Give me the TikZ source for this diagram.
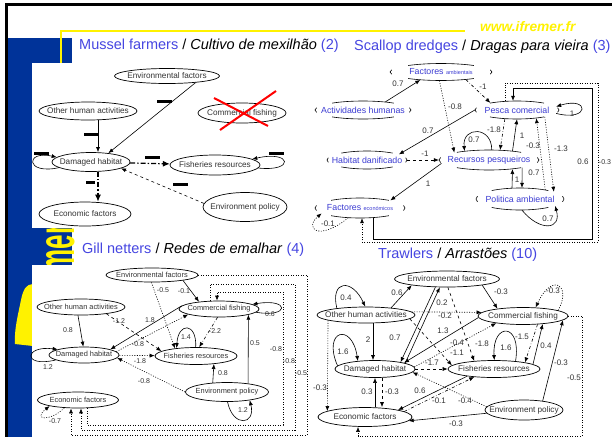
\documentclass[tikz,border=0pt]{standalone}
\usepackage{fontspec}
\setmainfont{Liberation Sans}
\usetikzlibrary{arrows.meta}
\usetikzlibrary{shapes,calc}
\usetikzlibrary{positioning}
\definecolor{barBlue}{RGB}{0,51,153}
\definecolor{titleBlue}{RGB}{70,70,225}
\definecolor{nodeBlue}{RGB}{60,60,210}
\colorlet{nodeGray}{black!80}
\tikzstyle{fnode} = [draw,ellipse,line width=0.7pt,inner xsep=-8pt,inner ysep=0pt,text=nodeGray]
\tikzstyle{snode} = [ellipse,inner xsep=-8pt,inner ysep=0pt,text=nodeBlue]
\tikzstyle{arr} = [->,>={Latex[length=5pt,width=4pt]},line width=0.6pt]
\tikzstyle{dotln} = [dash pattern=on 1pt off 1.5pt]
\tikzstyle{bigdd} = [line width=1.2pt,dash pattern=on 5pt off 2pt on 1.5pt off 2pt,>={Latex[length=7pt,width=6pt]}]
\tikzstyle{lbl} = [inner sep=0.5pt,text=nodeGray]
\tikzstyle{minusbar} = [fill=black,minimum width=15pt,minimum height=3pt,inner sep=0pt]
\tikzstyle{ptitle} = [anchor=west,inner sep=0pt,font=\fontsize{14.5}{16}\selectfont]
\newcommand\brokenell[3]{%
  \foreach \a/\b in {50/130,230/310,165/195,-15/15}
    \draw[line width=0.6pt] ([shift={(\a:#2pt and #3pt)}]#1.center) arc[start angle=\a,end angle=\b,x radius=#2pt,y radius=#3pt];%
}

\begin{document}
\begin{tikzpicture}[x=1pt,y=-1pt]
\useasboundingbox (0,0) rectangle (612,437);
%
% slide
\fill[white] (0,0) rectangle (612,437);
\fill[black] (5,3) rectangle (612,6);
\fill[black] (5,3) rectangle (8,437);
\fill[barBlue] (8,38) rectangle (72,437);
\draw[yellow,line width=2pt] (61,63) |- (465,31);
\node[rotate=90,xscale=0.5,anchor=base west,inner sep=0pt,text=yellow,font=\fontsize{52}{52}\bfseries\selectfont] (logo) at (74,313) {Ifremer};
\fill[yellow] (33,284) .. controls (26,284) and (23,290) .. (21,300) .. controls (18,315) and (14,330) .. (15,344) -- (33,346) -- cycle;
\fill[white] (32,63) rectangle (306,228);
\fill[white] (32,265) rectangle (306,437);
\node[anchor=west,inner sep=0pt,text=yellow,font=\fontsize{13.8}{15}\bfseries\itshape\selectfont] (url) at (480,27) {www.ifremer.fr};
%
\node[ptitle] (title1) at (79,46) {\textcolor{titleBlue}{Mussel farmers} / \textit{Cultivo de mexilhão} \textcolor{titleBlue}{(2)}};
\node[ptitle] (title2) at (354,47) {\textcolor{titleBlue}{Scallop dredges} / \textit{Dragas para vieira} \textcolor{titleBlue}{(3)}};
\node[ptitle] (title3) at (82,250) {\textcolor{titleBlue}{Gill netters} / \textit{Redes de emalhar} \textcolor{titleBlue}{(4)}};
\node[ptitle] (title4) at (378,255) {\textcolor{titleBlue}{Trawlers} / \textit{Arrastões} \textcolor{titleBlue}{(10)}};
%
% mussel farmers
\begin{scope}[fnode/.append style={font=\fontsize{8.2}{9}\selectfont}]
\node[fnode,minimum width=105pt,minimum height=15pt] (mef) at (167,76) {Environmental factors};
\node[fnode,minimum width=98pt,minimum height=18pt] (moh) at (88,111) {Other human activities};
\node[fnode,minimum width=88pt,minimum height=20pt] (mcf) at (242,113) {Commercial fishing};
\node[fnode,minimum width=78pt,minimum height=19pt] (mdh) at (91,162) {Damaged habitat};
\node[fnode,minimum width=90pt,minimum height=20pt] (mfr) at (215,165) {Fisheries resources};
\node[fnode,minimum width=84pt,minimum height=29pt] (mep) at (245,207) {Environment policy};
\node[fnode,minimum width=92pt,minimum height=24pt] (mec) at (85,214) {Economic factors};

\draw[red,line width=2pt] (214,98) -- (268,126) (276,91) -- (220,130);
\draw[arr] (mef.-13) -- (mdh.27) node[minusbar] at (164,101) {};
\draw[arr] ([xshift=10pt]moh.south) -- ([xshift=7pt]mdh.north) node[minusbar] at (91,134) {};
\draw[arr] (mdh.190) .. controls (25,175) and (25,150) .. (mdh.172) node[minusbar] at (41,153) {};
\draw[arr,bigdd] (mdh) -- (mfr) node[minusbar] at (152,157.5) {};
\draw[arr] (mfr.-4) .. controls (295,172) and (292,150) .. (mfr.9) node[minusbar] at (276,153) {};
\draw[arr,dashed] (mep.175) -- (mdh.-12) node[minusbar] at (180,184) {};
\draw[arr,bigdd] ([xshift=7pt]mdh.south) -- ([xshift=13pt]mec.north) node[minusbar,minimum width=9pt] at (90,182) {};
\end{scope}
%
% scallop dredges
\begin{scope}[snode/.append style={font=\fontsize{8.8}{10}\selectfont},lbl/.append style={font=\fontsize{8}{9}\selectfont}]
\node[snode,minimum width=102pt,minimum height=17pt] (sfa) at (441,72) {Factores {\fontsize{5.5}{6}\selectfont ambientais}};
\node[snode,minimum width=96pt,minimum height=18pt] (sah) at (363,110) {Actividades humanas};
\node[snode,minimum width=84pt,minimum height=18pt] (spc) at (517,110) {Pesca comercial};
\node[snode,minimum width=80pt,minimum height=18pt] (shd) at (367,160) {Habitat danificado};
\node[snode,minimum width=100pt,minimum height=20pt] (srp) at (489,160) {Recursos pesqueiros};
\node[snode,minimum width=90pt,minimum height=20pt] (sfe) at (360,208) {Factores {\fontsize{5.5}{6}\selectfont económicos}};
\node[snode,minimum width=88pt,minimum height=22pt] (spa) at (520,199) {Politica ambiental};
\brokenell{sfa}{51}{8.5}
\brokenell{sah}{48}{9}
\brokenell{spc}{42}{9}
\brokenell{shd}{40}{9}
\brokenell{srp}{50}{10}
\brokenell{sfe}{45}{10}
\brokenell{spa}{44}{11}

\draw[arr] (sah.20) -- (sfa.-159) node[lbl] at (398,84) {0.7};
\draw[arr,dashdotted] (sfa.-17) -- (spc.165) node[lbl] at (483,87) {-1};
\draw[arr,dotln] (sfa.-100) -- (srp.168) node[lbl] at (455,107) {-0.8};
\draw[arr] (spc.180) -- (shd.10) node[lbl] at (428,131) {0.7};
\draw[arr,dashdotted] (spc.-144) -- (srp.42) node[lbl] at (494,130) {-1.8};
\draw[arr] (srp.21) -- (spc.-90) node[lbl] at (522,136) {1};
\draw[arr] (srp.75) .. controls (492,126) and (462,126) .. (srp.160) node[lbl] at (474,140) {0.7};
\draw[arr] (spc.-5) .. controls (590,122) and (590,96) .. (spc.5) node[lbl] at (572,114) {1};
\draw[arr,dashed] (shd) -- (srp) node[lbl] at (425,154) {-1};
\draw[arr] (srp.-176) -- (sfe.14) node[lbl] at (428,184) {1};
\draw[arr,dotln] (spa.20) -- (spc.-23) node[lbl] at (533,146) {-0.3};
\draw[arr,dotln] (spc.-14) -- (spa.12) node[lbl] at (561,149) {-1.3};
\draw[arr] (srp.-13) -- (spa.80) node[lbl] at (534,173) {0.7};
\draw[arr] (spa.126) -- (srp.-21) node[lbl] at (517,180) {1};
\draw[arr] (spa.-80) .. controls (540,232) and (562,230) .. (spa.-11) node[lbl] at (548,219) {0.7};
\draw[arr,dotln] (sfe.-140) .. controls (318,242) and (304,228) .. (sfe.188) node[lbl] at (328,224) {-0.1};
\draw[arr] ([xshift=13pt]sfe.south) -- ++(0,21) -| (592,88) -| ([xshift=-4pt]spc.north) node[lbl] at (583,162) {0.6};
\draw[arr,dotln] ([xshift=-12pt]spc.north) |- (598,83) |- (362,242) -- ([xshift=2pt]sfe.south) node[lbl,font=\fontsize{7}{8}\selectfont] at (605,162) {-0.3};
\end{scope}
%
% gill netters
\begin{scope}[fnode/.append style={font=\fontsize{7.4}{8}\selectfont},lbl/.append style={font=\fontsize{7}{8}\selectfont}]
\node[fnode,minimum width=92pt,minimum height=14pt] (gef) at (152,275) {Environmental factors};
\node[fnode,minimum width=88pt,minimum height=16pt] (goh) at (81,307) {Other human activities};
\node[fnode,minimum width=80pt,minimum height=16pt] (gcf) at (219,309) {Commercial fishing};
\node[fnode,minimum width=70pt,minimum height=16pt] (gdh) at (84,355) {Damaged habitat};
\node[fnode,minimum width=82pt,minimum height=17pt] (gfr) at (196,356) {Fisheries resources};
\node[fnode,minimum width=83pt,minimum height=19pt] (gep) at (227,392) {Environment policy};
\node[fnode,minimum width=81pt,minimum height=16pt] (gec) at (78,400) {Economic factors};

\draw[arr] (goh.-110) -- (gdh.95) node[lbl] at (68,330) {0.8};
\draw[arr] (gdh.190) .. controls (22,368) and (24,345) .. (gdh.168) node[lbl] at (48,367) {1.2};
\draw[arr] (gef.-10) -- (gcf.160) node[lbl] at (184,291) {-0.1};
\draw[arr,dotln] (gef.-95) -- (gfr.160) node[lbl] at (163,290) {-0.5};
\draw[arr,dotln] (gef.east) -- (307,275) |- (71,435) -- ([xshift=-7pt]gec.south) node[lbl] at (301,373) {-0.5};
\draw[arr,dotln] ([xshift=-9pt]gcf.north) |- (295,284) |- (81,430) -- ([xshift=3pt]gec.south) node[lbl] at (289,361) {-0.8};
\draw[arr,dotln] ([xshift=9pt]gec.south) |- (283,425) |- (217,292) -- ([xshift=-2pt]gcf.north) node[lbl] at (276,349) {-0.8};
\draw[arr] (gcf.-5) .. controls (290,318) and (290,298) .. (gcf.8) node[lbl] at (270,314) {0.6};
\draw[arr] (gcf.175) -- (gdh.12) node[lbl] at (150,320) {1.8};
\draw[arr,dotln] (gdh.6) -- (gcf.190) node[lbl] at (138,344) {-0.8};
\draw[arr,dashed] (goh.-15) -- (gfr.172) node[lbl] at (119,321) {-1.2};
\draw[arr,dashdotted] (gcf.-100) -- (gfr.70) node[lbl] at (215,331) {-2.2};
\draw[arr] (gfr.92) .. controls (197,322) and (178,322) .. (gfr.158) node[lbl] at (186,337) {1.4};
\draw[arr,dotln] (gdh) -- (gfr) node[lbl] at (140,361) {-1.8};
\draw[arr,dotln] (gep.west) -- (gdh.-5) node[lbl] at (144,381) {-0.8};
\draw[arr] (gep.147) -- (gfr.-24) node[lbl] at (223,373) {0.8};
\draw[arr] (gep.22) -- (gcf.-11) node[lbl] at (255,343) {0.5};
\draw[arr] (gep.-87) .. controls (233,428) and (256,425) .. (gep.-20) node[lbl] at (243,410) {1.2};
\draw[arr,dotln] (gec.-150) .. controls (50,422) and (32,420) .. (gec.-168) node[lbl] at (55,421) {-0.7};
\end{scope}
%
% trawlers
\begin{scope}[fnode/.append style={font=\fontsize{8.2}{9}\selectfont},lbl/.append style={font=\fontsize{8}{9}\selectfont}]
\node[fnode,minimum width=105pt,minimum height=16pt] (tef) at (447,279) {Environmental factors};
\node[fnode,minimum width=98pt,minimum height=16pt] (toh) at (366,315) {Other human activities};
\node[fnode,minimum width=90pt,minimum height=17pt] (tcf) at (523,316) {Commercial fishing};
\node[fnode,minimum width=80pt,minimum height=17pt] (tdh) at (375,369) {Damaged habitat};
\node[fnode,minimum width=92pt,minimum height=17pt] (tfr) at (494,369) {Fisheries resources};
\node[fnode,minimum width=94pt,minimum height=19pt] (tec) at (365,417) {Economic factors};
\node[fnode,minimum width=78pt,minimum height=20pt] (tep) at (524,410) {Environment policy};

\draw[arr] (toh.167) .. controls (330,280) and (352,278) .. (toh.95) node[lbl] at (346,298) {0.4};
\draw[arr] (toh.16) -- (tef.-170) node[lbl] at (397,293) {0.6};
\draw[arr] (tef.-145) -- (tdh.15) node[lbl] at (395,338) {0.7};
\draw[arr] (tdh.11) -- (tef.-131) node[lbl] at (442,303) {0.2};
\draw[arr] (tef.-10) -- (tcf.164) node[lbl] at (501,292) {-0.3};
\draw[arr,dashed] (tef.-84) -- (tfr.158) node[lbl] at (482,344) {-1.8};
\draw[arr,dotln] (tcf.9) .. controls (572,285) and (552,272) .. (tcf.34) node[lbl] at (553,291) {-0.3};
\draw[arr,dotln] (toh.4) -- (tcf.175) node[lbl] at (445,316) {-0.2};
\draw[arr] (tcf.-178) -- (tdh.12) node[lbl] at (443,331) {1.3};
\draw[arr,dotln] (tdh.3) -- (tcf.-165) node[lbl] at (457,343) {-0.4};
\draw[arr,dashed] (toh.-5) -- (tfr.175) node[lbl] at (457,353) {-1.1};
\draw[arr] ([xshift=7pt]toh.south) -- ([xshift=-2pt]tdh.north) node[lbl] at (368,340) {2};
\draw[arr] (tdh.175) .. controls (322,330) and (352,322) .. (tdh.155) node[lbl] at (343,352) {1.6};
\draw[arr,dashed] (tdh) -- (tfr) node[lbl] at (432,363) {-1.7};
\draw[arr] (tfr.20) .. controls (522,322) and (492,322) .. (tfr.88) node[lbl] at (506,348) {1.6};
\draw[arr,dashdotted] (tcf.-30) -- (tfr.12) node[lbl] at (522,337) {-1.5};
\draw[arr] (tfr.7) -- (tcf.-22) node[lbl] at (546,346) {0.4};
\draw[arr] (tep.26) -- (tcf.-6) node[lbl] at (561,363) {-0.3};
\draw[arr,dotln] (tep.175) -- (tdh.-5) node[lbl] at (465,401) {-0.4};
\draw[arr] (tfr.-165) -- (tec.12) node[lbl] at (420,391) {0.6};
\draw[arr,dashdotted] (tec.8) -- (tfr.-158) node[lbl] at (439,401) {-0.1};
\draw[arr] ([xshift=10pt]tec.north) -- (tdh.south) node[lbl] at (367,392) {0.3};
\draw[arr,dashed] ([xshift=7pt]tdh.south) -- ([xshift=17pt]tec.north) node[lbl] at (392,392) {-0.3};
\draw[arr] (tep.-175) -- (tec.-5) node[lbl] at (456,424) {-0.3};
\draw[arr,dotln] (tcf.east) -- (582,316) |- (358,436) -- ([xshift=-7pt]tec.south) node[lbl] at (574,378) {-0.5};
\draw[arr,dotln] (toh.-172) -- (tec.171) node[lbl] at (320,388) {-0.3};
\end{scope}
\end{tikzpicture}
\end{document}
